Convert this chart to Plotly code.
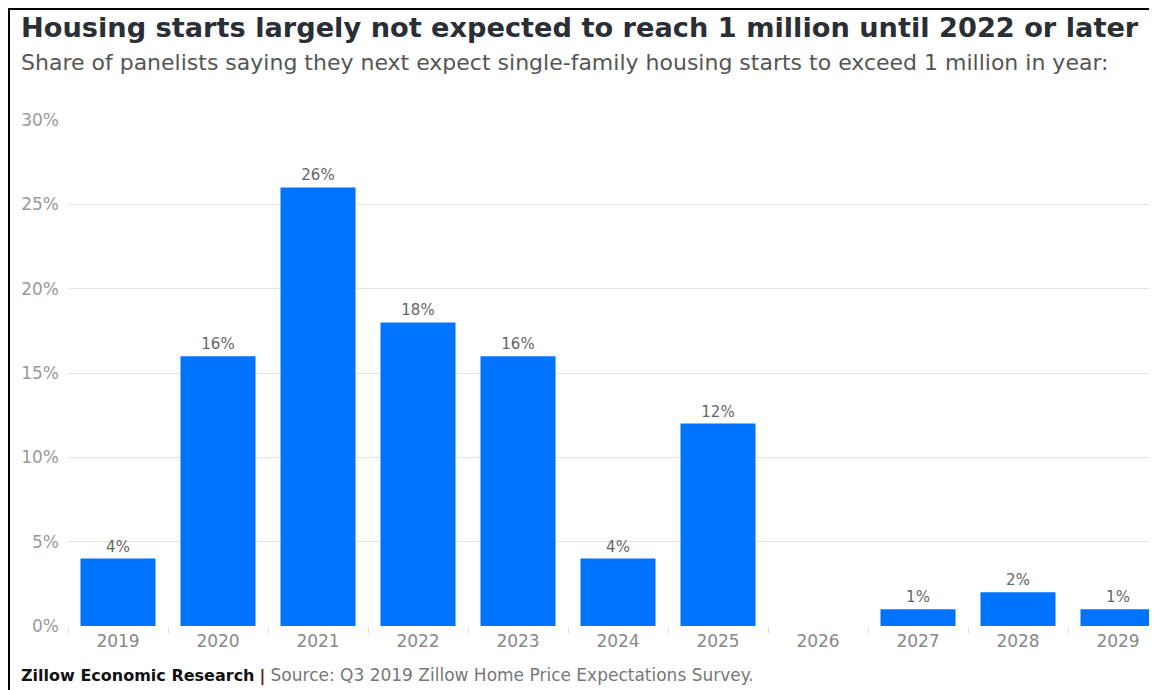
import plotly.graph_objects as go

# ----------------------------
# Data
# ----------------------------
years = ["2019", "2020", "2021", "2022", "2023", "2024", "2025", "2026", "2027", "2028", "2029"]
share = [4, 16, 26, 18, 16, 4, 12, None, 1, 2, 1]
y_ticks = [0, 5, 10, 15, 20, 25, 30]
y_labels = ["0%", "5%", "10%", "15%", "20%", "25%", "30%"]

title_txt = "Housing starts largely not expected to reach 1 million until 2022 or later"
subtitle_txt = "Share of panelists saying they next expect single-family housing starts to exceed 1 million in year:"
footer_bold = "Zillow Economic Research"
footer_src = "Source: Q3 2019 Zillow Home Price Expectations Survey."

# the page puts the figure 8px in from the top-left corner
W, H = 1157, 690
ML, MR, MT, MB = 60, 0, 112, 72
PW, PH = W - ML - MR, H - MT - MB


def px(x):  # figure pixel -> paper x
    return (x - ML) / PW


def py(y):  # figure pixel -> paper y
    return (H - MB - y) / PH


FONT = "DejaVu Sans"
bar_text = [f"{v}%" if v is not None else "" for v in share]

fig = go.Figure()
fig.add_trace(go.Bar(
    x=years, y=share,
    marker=dict(color="#0073ff", line=dict(width=0)),
    text=bar_text, textposition="outside", cliponaxis=False,
    textfont=dict(family=FONT, size=15, color="#666666"),
    hoverinfo="skip",
))

fig.update_layout(
    width=W, height=H,
    margin=dict(l=ML, r=MR, t=MT, b=MB, autoexpand=False),
    paper_bgcolor="white",
    plot_bgcolor="white",
    bargap=0.25,
    showlegend=False,
    font=dict(family=FONT),
    xaxis=dict(
        type="category",
        range=[-0.5, -0.5 + PW / 100],
        ticks="outside", tickson="boundaries", ticklen=6, tickcolor="#dddddd",
        ticklabelstandoff=3,
        showgrid=False, showline=False, zeroline=False,
        tickfont=dict(family=FONT, size=17, color="#888888"),
    ),
    yaxis=dict(
        range=[0, 30],
        tickvals=y_ticks, ticktext=y_labels,
        showgrid=True, gridcolor="#e4e4e4", gridwidth=1,
        zeroline=True, zerolinecolor="rgba(0,0,0,0)",
        showline=False, ticks="", ticklabelstandoff=8,
        tickfont=dict(family=FONT, size=17, color="#999999"),
    ),
    shapes=[
        # black frame along the top and left edge
        dict(type="line", xref="paper", yref="paper",
             x0=px(0), x1=px(W + 5), y0=py(1), y1=py(1),
             line=dict(color="black", width=2)),
        dict(type="line", xref="paper", yref="paper",
             x0=px(1), x1=px(1), y0=py(0), y1=py(H + 5),
             line=dict(color="black", width=2)),
    ],
    annotations=[
        dict(text=f"<b>{title_txt}</b>", xref="paper", yref="paper",
             x=px(11), y=py(20), xanchor="left", yanchor="middle", showarrow=False,
             font=dict(family=FONT, size=27.2, color="#2a2f36")),
        dict(text=subtitle_txt, xref="paper", yref="paper",
             x=px(11), y=py(54), xanchor="left", yanchor="middle", showarrow=False,
             font=dict(family=FONT, size=22, color="#555555")),
        dict(text=f"<b>{footer_bold}</b> <b><span style='color:#5a2222'>|</span></b> "
                  f"<span style='color:#777777;font-size:17px'>{footer_src}</span>",
             xref="paper", yref="paper",
             x=px(11), y=py(667), xanchor="left", yanchor="middle", showarrow=False,
             font=dict(family=FONT, size=16, color="#111111")),
    ],
)

fig.write_html("out.html")
